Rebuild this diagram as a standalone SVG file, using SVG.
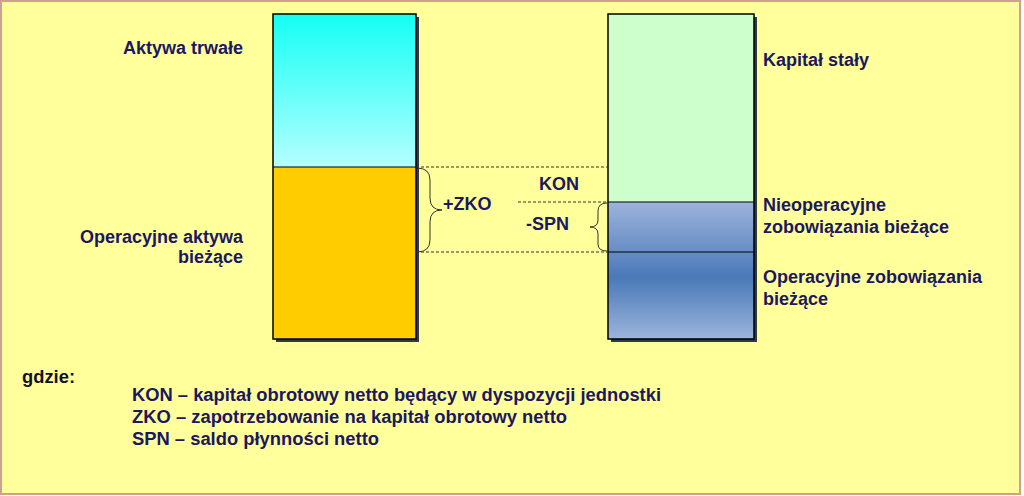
<svg xmlns="http://www.w3.org/2000/svg" width="1024" height="496" viewBox="0 0 1024 496">
<style>
.lbl{font-family:"Liberation Sans",Arial,sans-serif;font-weight:bold;font-size:18px;fill:#1B1760}
.leg{font-family:"Liberation Sans Narrow","Liberation Sans",Arial,sans-serif;font-weight:bold;font-size:18px;fill:#1B1760}
.box{stroke:#000;stroke-width:1.5}
.div{stroke:#000;stroke-width:1.2}
.dash{stroke:#333;stroke-width:1;stroke-dasharray:3 2;fill:none}
.brace{stroke:#333;stroke-width:1;fill:none}
.shadow{fill:#2E3A48}
</style>
<defs>
<linearGradient id="gCyan" x1="0" y1="0" x2="0" y2="1">
<stop offset="0" stop-color="#14FFF4"/>
<stop offset="1" stop-color="#B4FFFF"/>
</linearGradient>
<linearGradient id="gBlue" x1="0" y1="0" x2="0" y2="1">
<stop offset="0" stop-color="#9DB4DC"/>
<stop offset="0.55" stop-color="#4A79B8"/>
<stop offset="1" stop-color="#9CB5DB"/>
</linearGradient>
</defs>
<rect x="1" y="1" width="1019" height="493" fill="#FFFF9C" stroke="#CFA090" stroke-width="2"/>

<g id="left-column">
<rect class="shadow" x="276" y="17" width="143" height="325"/>
<rect x="273" y="14" width="143" height="153" fill="url(#gCyan)"/>
<rect x="273" y="167" width="143" height="172" fill="#FFCC00"/>
<line class="div" x1="273" y1="167" x2="416" y2="167"/>
<rect class="box" x="273" y="14" width="143" height="325" fill="none"/>
</g>

<g id="right-column">
<rect class="shadow" x="611" y="17" width="146" height="325"/>
<rect x="608" y="14" width="146" height="188" fill="#CCFFCC"/>
<rect x="608" y="202" width="146" height="137" fill="url(#gBlue)"/>
<line class="div" x1="608" y1="202" x2="754" y2="202"/>
<line class="div" x1="608" y1="252" x2="754" y2="252"/>
<rect class="box" x="608" y="14" width="146" height="325" fill="none"/>
</g>

<g id="connectors">
<line class="dash" x1="416" y1="167" x2="608" y2="167"/>
<line class="dash" x1="518" y1="202" x2="608" y2="202"/>
<line class="dash" x1="416" y1="252" x2="608" y2="252"/>
<path class="brace" d="M417,168 Q430,168 430,180 L430,198 Q430,210 442,210 Q430,210 430,222 L430,240 Q430,252 417,252"/>
<path class="brace" d="M607,203 Q598,203 598,211 L598,220 Q598,227 590,227 Q598,227 598,234 L598,244 Q598,251 607,251"/>
</g>

<g id="labels-left">
<text class="lbl" x="243" y="54" text-anchor="end">Aktywa trwałe</text>
<text class="lbl" x="243" y="243" text-anchor="end">Operacyjne aktywa</text>
<text class="lbl" x="243" y="263" text-anchor="end">bieżące</text>
</g>

<g id="labels-right">
<text class="lbl" x="763" y="66">Kapitał stały</text>
<text class="lbl" x="763" y="211">Nieoperacyjne</text>
<text class="lbl" x="763" y="233">zobowiązania  bieżące</text>
<text class="lbl" x="763" y="283">Operacyjne zobowiązania</text>
<text class="lbl" x="763" y="305">bieżące</text>
</g>

<g id="labels-middle">
<text class="lbl" x="539" y="190">KON</text>
<text class="lbl" x="443" y="210">+ZKO</text>
<text class="lbl" x="526" y="230">-SPN</text>
</g>

<g id="legend">
<text class="leg" x="22" y="383" fill="#111" style="fill:#111122" textLength="53" lengthAdjust="spacingAndGlyphs">gdzie:</text>
<text class="leg" x="132" y="401" textLength="529" lengthAdjust="spacingAndGlyphs">KON – kapitał obrotowy netto będący w dyspozycji jednostki</text>
<text class="leg" x="132" y="423" textLength="435" lengthAdjust="spacingAndGlyphs">ZKO – zapotrzebowanie na kapitał obrotowy netto</text>
<text class="leg" x="132" y="445" textLength="247" lengthAdjust="spacingAndGlyphs">SPN – saldo płynności netto</text>
</g>
</svg>
